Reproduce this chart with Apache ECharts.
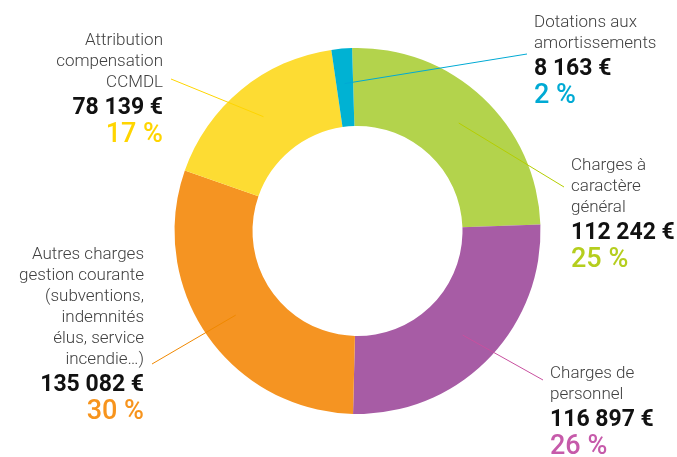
<!DOCTYPE html>
<html>
<head>
<meta charset="utf-8">
<script src="https://cdn.jsdelivr.net/npm/echarts@6/dist/echarts.min.js"></script>
<style>
    html, body { margin: 0; padding: 0; background: #fff; }
    #chart { width: 677px; height: 457px; }
</style>
</head>
<body>
<div id="chart"></div>
<script>
const names = [
    "Charges à\ncaractère\ngénéral",
    "Charges de\npersonnel",
    "Autres charges\ngestion courante\n(subventions,\nindemnités\nélus, service\nincendie…)",
    "Attribution\ncompensation\nCCMDL",
    "Dotations aux\namortissements",
];
const values = [112242, 116897, 135082, 78139, 8163];
const sliceColors = ["#b3d34c", "#a75ca5", "#f59422", "#fddc33", "#00b2d3"];
const pctColors = ["#b5ce1e", "#c65aaa", "#f7941d", "#ffd500", "#00aad4"];
const lineColors = ["#b5ce00", "#c8509f", "#f08800", "#ffd500", "#00aad4"];

// where each label block sits (top-left or top-right corner) and where its line ends
const labelPos = [
    { x: 571, y: 155, align: "left", lineDy: 32 },
    { x: 550, y: 363, align: "left", lineDy: 17 },
    { x: 144, y: 244, align: "right", lineDy: 120 },
    { x: 163, y: 30, align: "right", lineDy: 49 },
    { x: 534, y: 12, align: "left", lineDy: 42 },
];

const euro = (v) => String(v).replace(/\B(?=(\d{3})+(?!\d))/g, " ") + " €";

const rich = {
    n: { fontFamily: "Roboto", fontWeight: 300, fontSize: 17, lineHeight: 21, color: "#404040" },
    v: { fontFamily: "Roboto", fontWeight: "bold", fontSize: 23, lineHeight: 31, color: "#111" },
};
pctColors.forEach((c, i) => {
    rich["p" + i] = { fontFamily: "Roboto", fontWeight: 500, fontSize: 27, lineHeight: 22, color: c };
});

const center = [357.5, 231];

document.addEventListener("DOMContentLoaded", () => {
    echarts.init(document.querySelector("#chart")).setOption({
        animation: false,
        series: [
            {
                type: "pie",
                silent: true,
                center: center,
                radius: [105, 183],
                startAngle: 91.7,
                clockwise: true,
                avoidLabelOverlap: false,
                label: { show: false },
                labelLine: { show: false },
                data: values.map((v, i) => ({
                    value: v,
                    name: names[i],
                    itemStyle: { color: sliceColors[i] },
                })),
            },
            {
                // invisible twin, only used to anchor the labels and their lines
                type: "pie",
                z: 3,
                silent: true,
                center: center,
                radius: [0, 148],
                startAngle: 91.7,
                clockwise: true,
                avoidLabelOverlap: false,
                percentPrecision: 0,
                itemStyle: { color: "rgba(0,0,0,0)" },
                label: {
                    show: true,
                    position: "outside",
                    color: "#333",
                    rich: rich,
                    formatter: (p) =>
                        "{n|" + names[p.dataIndex] + "}\n{v|" + euro(values[p.dataIndex]) + "}\n{p" +
                        p.dataIndex + "|" + p.percent + " %}",
                },
                labelLine: { show: true, length: 0, length2: 0, lineStyle: { width: 1, opacity: 1 } },
                labelLayout: (p) => {
                    const pos = labelPos[p.dataIndex];
                    const start = p.labelLinePoints && p.labelLinePoints[0];
                    const end = [pos.align === "right" ? pos.x + 8 : pos.x - 7, pos.y + pos.lineDy];
                    return {
                        x: pos.x,
                        y: pos.y,
                        align: pos.align,
                        verticalAlign: "top",
                        labelLinePoints: start ? [start, end] : undefined,
                    };
                },
                data: values.map((v, i) => ({
                    value: v,
                    name: names[i],
                    labelLine: { lineStyle: { color: lineColors[i] } },
                })),
            },
        ],
    });
});
</script>
</body>
</html>
